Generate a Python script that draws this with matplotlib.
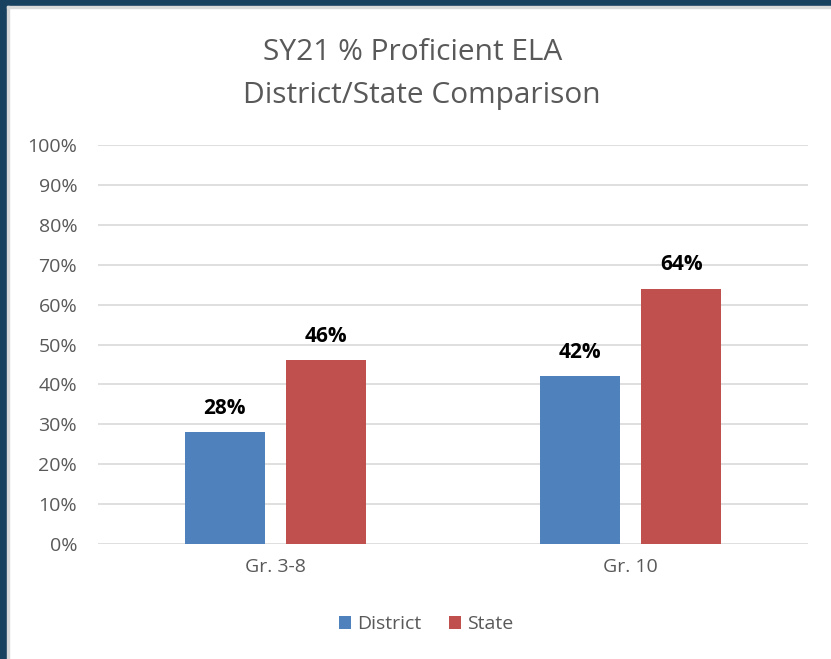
import matplotlib.pyplot as plt
import matplotlib.patches as patches
import numpy as np

plt.rcParams['font.family'] = ['Open Sans', 'DejaVu Sans']

categories = ['Gr. 3-8', 'Gr. 10']
district = [28, 42]
state = [46, 64]
labels = ['District', 'State']

blue = '#4f81bd'
red = '#c0504d'
grey_txt = '#595959'

W, H = 831, 659
fig = plt.figure(figsize=(W / 100, H / 100), dpi=100)

# dark frame along top and left, with light inner edge
fig.patches.append(patches.Rectangle((0, 1 - 6 / H), 1, 6 / H, transform=fig.transFigure,
                                     color='#17415f', zorder=0))
fig.patches.append(patches.Rectangle((0, 0), 7 / W, 1, transform=fig.transFigure,
                                     color='#17415f', zorder=0))
fig.patches.append(patches.Rectangle((7 / W, 1 - 8 / H), 1, 2 / H, transform=fig.transFigure,
                                     color='#d9d9d9', zorder=0))
fig.patches.append(patches.Rectangle((7 / W, 0), 2 / W, 1 - 6 / H, transform=fig.transFigure,
                                     color='#d9d9d9', zorder=0))

ax = fig.add_axes([98 / W, 1 - 544 / H, 710 / W, 399 / H])

x = np.arange(len(categories)) + 0.5
bw = 0.225
off = 0.143
b1 = ax.bar(x - off, district, bw, color=blue, label=labels[0], zorder=3)
b2 = ax.bar(x + off, state, bw, color=red, label=labels[1], zorder=3)

for bars, vals in [(b1, district), (b2, state)]:
    for rect, v in zip(bars, vals):
        ax.text(rect.get_x() + rect.get_width() / 2, v + 3.4, f'{v}%',
                ha='center', va='bottom', fontsize=15, fontweight='bold', color='black')

ax.set_xlim(0, 2)
ax.set_ylim(0, 100)
ax.set_yticks(range(0, 101, 10))
ax.set_yticklabels([f'{t}%' for t in range(0, 101, 10)])
ax.set_xticks(x)
ax.set_xticklabels(categories)
ax.tick_params(axis='both', length=0, labelsize=14, colors=grey_txt)
ax.tick_params(axis='y', pad=15)
ax.tick_params(axis='x', pad=10)
ax.grid(axis='y', color='#d9d9d9', linewidth=1.2, zorder=0)
for s in ax.spines.values():
    s.set_visible(False)

fig.text(413 / W, 1 - 52 / H, 'SY21 % Proficient ELA', ha='center', va='center',
         fontsize=21.5, color=grey_txt)
fig.text(422 / W, 1 - 96 / H, 'District/State Comparison', ha='center', va='center',
         fontsize=21.5, color=grey_txt)

leg = fig.legend(handles=[b1, b2], labels=labels, loc='center', bbox_to_anchor=(426 / W, 1 - 624 / H),
                 ncol=2, frameon=False, fontsize=14, handlelength=0.65, handleheight=0.65,
                 handletextpad=0.3, columnspacing=1.4)
for t in leg.get_texts():
    t.set_color(grey_txt)

fig.savefig('out.png', dpi=100)
